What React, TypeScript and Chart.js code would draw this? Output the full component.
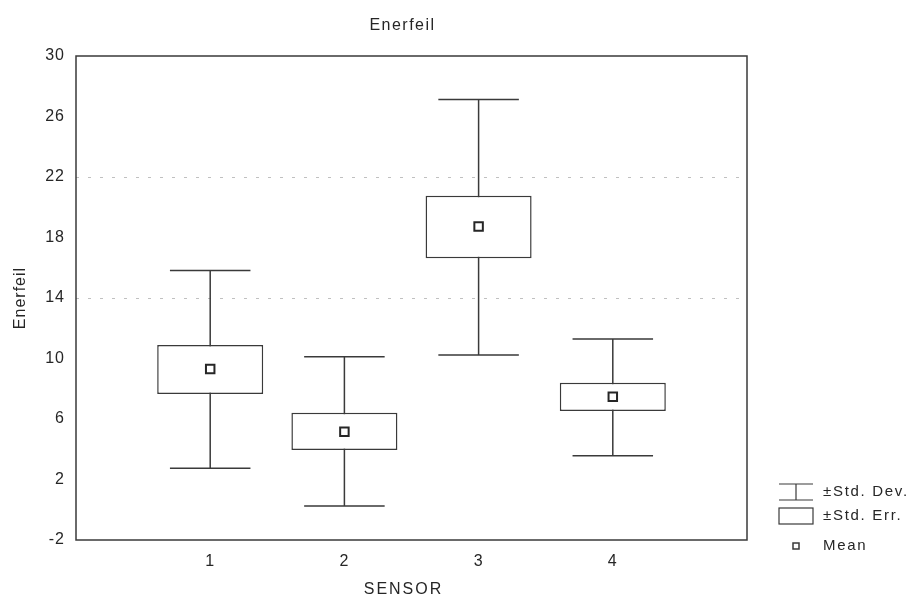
import { useEffect, useRef } from 'react';
import { Chart, registerables } from 'chart.js';

Chart.register(...registerables);

// ---- data ----
const sensors = [1, 2, 3, 4];
const xTickLabels = ['1', '2', '3', '4'];
const means = [9.31, 5.16, 18.72, 7.47];
const seLow = [7.65, 3.95, 16.62, 6.53];
const seHigh = [10.89, 6.42, 20.76, 8.4];
const sdLow = [2.74, 0.25, 10.23, 3.57];
const sdHigh = [15.81, 10.12, 27.13, 11.29];
const yTicks = [-2, 2, 6, 10, 14, 18, 22, 26, 30];
const visibleGrid = [14, 22];
const legendLabels = ['±Std. Dev.', '±Std. Err.', 'Mean'];
const chartTitle = 'Enerfeil';
const xTitle = 'SENSOR';
const yTitle = 'Enerfeil';

// ---- style ----
const INK = '#262626';
const LINE = '#3a3a3a';
const CAP_HALF = 0.3;
const FONT = "'Liberation Sans', Arial, sans-serif";

function buildWhiskers() {
  const pts: { x: number; y: number | null }[] = [];
  sensors.forEach((s, i) => {
    pts.push({ x: s - CAP_HALF, y: sdHigh[i] }, { x: s + CAP_HALF, y: sdHigh[i] }, { x: s, y: null });
    pts.push({ x: s, y: sdHigh[i] }, { x: s, y: sdLow[i] }, { x: s, y: null });
    pts.push({ x: s - CAP_HALF, y: sdLow[i] }, { x: s + CAP_HALF, y: sdLow[i] }, { x: s, y: null });
  });
  return pts;
}

const decorPlugin = {
  id: 'decor',
  beforeDraw(chart: any) {
    chart.ctx.letterSpacing = '1px';
  },
  afterDraw(chart: any) {
    const { ctx, chartArea } = chart;
    const { left, right, top, bottom } = chartArea;
    ctx.save();
    // frame
    ctx.strokeStyle = LINE;
    ctx.lineWidth = 1.5;
    ctx.strokeRect(left, top, right - left, bottom - top);

    ctx.fillStyle = INK;
    ctx.textBaseline = 'middle';
    ctx.textAlign = 'center';
    // chart title
    ctx.letterSpacing = '1.5px';
    ctx.font = `16px ${FONT}`;
    ctx.fillText(chartTitle, (left + right) / 2 - 9, top - 30);
    // x title
    ctx.letterSpacing = '2px';
    ctx.fillText(xTitle, (left + right) / 2 - 8, bottom + 50);

    // legend
    ctx.letterSpacing = '1.7px';
    ctx.font = `15px ${FONT}`;
    ctx.textAlign = 'left';
    const sx0 = right + 32;
    const sx1 = right + 66;
    const tx = right + 76;
    const rows = [bottom - 48, bottom - 24, bottom + 6];
    ctx.strokeStyle = LINE;
    ctx.lineWidth = 1.2;
    // I-beam
    const r0 = rows[0];
    ctx.beginPath();
    ctx.moveTo(sx0, r0 - 8); ctx.lineTo(sx1, r0 - 8);
    ctx.moveTo(sx0, r0 + 8); ctx.lineTo(sx1, r0 + 8);
    ctx.moveTo((sx0 + sx1) / 2, r0 - 8); ctx.lineTo((sx0 + sx1) / 2, r0 + 8);
    ctx.stroke();
    // box
    const r1 = rows[1];
    ctx.strokeRect(sx0, r1 - 8, sx1 - sx0, 16);
    // mean
    const r2 = rows[2];
    ctx.lineWidth = 1.5;
    ctx.strokeRect((sx0 + sx1) / 2 - 3, r2 - 3, 6, 6);
    legendLabels.forEach((t, i) => ctx.fillText(t, tx, rows[i]));
    ctx.restore();
  },
};

export default function App() {
  const ref = useRef<HTMLCanvasElement>(null);
  useEffect(() => {
    if (!ref.current) return;
    Chart.defaults.font.family = FONT;
    Chart.defaults.color = INK;
    const chart = new Chart(ref.current, {
      type: 'bar',
      data: {
        datasets: [
          {
            type: 'line',
            label: legendLabels[0],
            data: buildWhiskers() as any,
            borderColor: LINE,
            borderWidth: 1.5,
            pointRadius: 0,
            spanGaps: false,
            order: 3,
          } as any,
          {
            type: 'bar',
            label: legendLabels[1],
            data: sensors.map((s, i) => ({ x: s, y: [seLow[i], seHigh[i]] })) as any,
            backgroundColor: '#ffffff',
            borderColor: LINE,
            borderWidth: 1.5,
            borderSkipped: false,
            categoryPercentage: 1,
            barPercentage: 0.79,
            order: 2,
          } as any,
          {
            type: 'line',
            label: legendLabels[2],
            data: sensors.map((s, i) => ({ x: s, y: means[i] })) as any,
            showLine: false,
            pointStyle: 'rect',
            pointRadius: 6,
            pointBackgroundColor: '#ffffff',
            pointBorderColor: INK,
            pointBorderWidth: 2,
            order: 1,
          } as any,
        ],
      },
      options: {
        responsive: false,
        animation: false,
        layout: { padding: { left: 0, right: 167, top: 56, bottom: 0 } },
        plugins: {
          legend: { display: false },
          tooltip: { enabled: false },
          title: { display: false },
        },
        scales: {
          x: {
            type: 'linear',
            min: 0,
            max: 5,
            offset: false,
            grid: { display: false, drawTicks: false },
            border: { display: false },
            afterBuildTicks: (s: any) => {
              s.ticks = sensors.map((v) => ({ value: v }));
            },
            ticks: {
              font: { size: 16 },
              color: INK,
              padding: 12,
              maxRotation: 0,
              autoSkip: false,
              callback: (v: any) => xTickLabels[sensors.indexOf(Number(v))] ?? '',
            },
            afterFit: (s: any) => {
              s.height = 59;
            },
          },
          y: {
            type: 'linear',
            min: -2,
            max: 30,
            afterBuildTicks: (s: any) => {
              s.ticks = yTicks.map((v) => ({ value: v }));
            },
            grid: {
              drawTicks: false,
              lineWidth: 1,
              color: (c: any) =>
                c.tick && visibleGrid.includes(c.tick.value) ? 'rgba(140,140,140,0.55)' : 'rgba(0,0,0,0)',
            },
            border: { display: false, dash: [3, 9] },
            ticks: {
              font: { size: 16 },
              color: INK,
              padding: 11,
            },
            title: {
              display: true,
              text: yTitle,
              font: { size: 16 },
              color: INK,
              padding: { top: 11, bottom: 0 },
            },
            afterFit: (s: any) => {
              s.width = 76;
            },
          },
        },
      },
      plugins: [decorPlugin],
    });
    return () => chart.destroy();
  }, []);
  return (
    <div style={{ position: 'fixed', left: 0, top: 0, width: 914, height: 599, background: '#fff' }}>
      <canvas ref={ref} width={914} height={599} style={{ display: 'block' }} />
    </div>
  );
}
